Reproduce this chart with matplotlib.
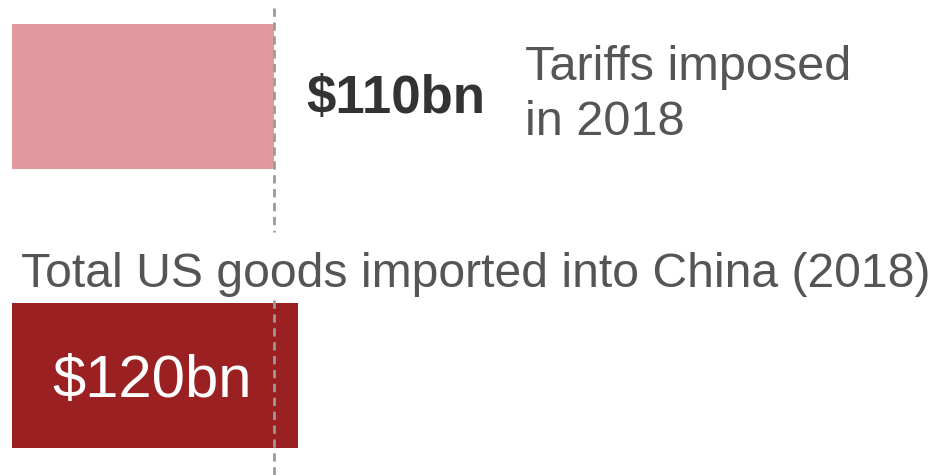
import matplotlib.pyplot as plt

# values in $bn
labels = ["Tariffs imposed\nin 2018", "Total US goods imported into China (2018)"]
values = [110, 120]
value_text = ["$110bn", "$120bn"]
colors = ["#e39a9e", "#9b2021"]

plt.rcParams['font.family'] = ['Liberation Sans', 'DejaVu Sans']

fig = plt.figure(figsize=(9.4, 4.75), dpi=100)
ax = fig.add_axes([0, 0, 1, 1])

k = 2.38  # px per $bn
x0 = 12
ax.set_xlim(-x0 / k, (940 - x0) / k)
ax.set_ylim(475, 0)  # y in pixel units, top down
ax.axis("off")


def px(x):
    return (x - x0) / k


centers = [96.5, 375]
ax.barh(centers, values, height=145, color=colors, left=0)

# dashed reference line at tariff value
ax.vlines(values[0], 8, 232, colors="#9a9a9a", linestyles=(0, (3, 2)), linewidth=2)
ax.vlines(values[0], 300, 475, colors="#9a9a9a", linestyles=(0, (3, 2)), linewidth=2)

ax.text(px(306), 113, value_text[0], fontsize=38, fontweight="bold",
        color="#333333", va="baseline", ha="left")
ax.text(px(525), 95, labels[0], fontsize=35, color="#555555",
        va="center", ha="left", linespacing=1.27)

ax.text(px(21), 287, labels[1], fontsize=34.7, color="#555555", va="baseline", ha="left")
ax.text(px(152), 397, value_text[1], fontsize=43, color="white",
        va="baseline", ha="center")

fig.savefig("out.png", dpi=100)
